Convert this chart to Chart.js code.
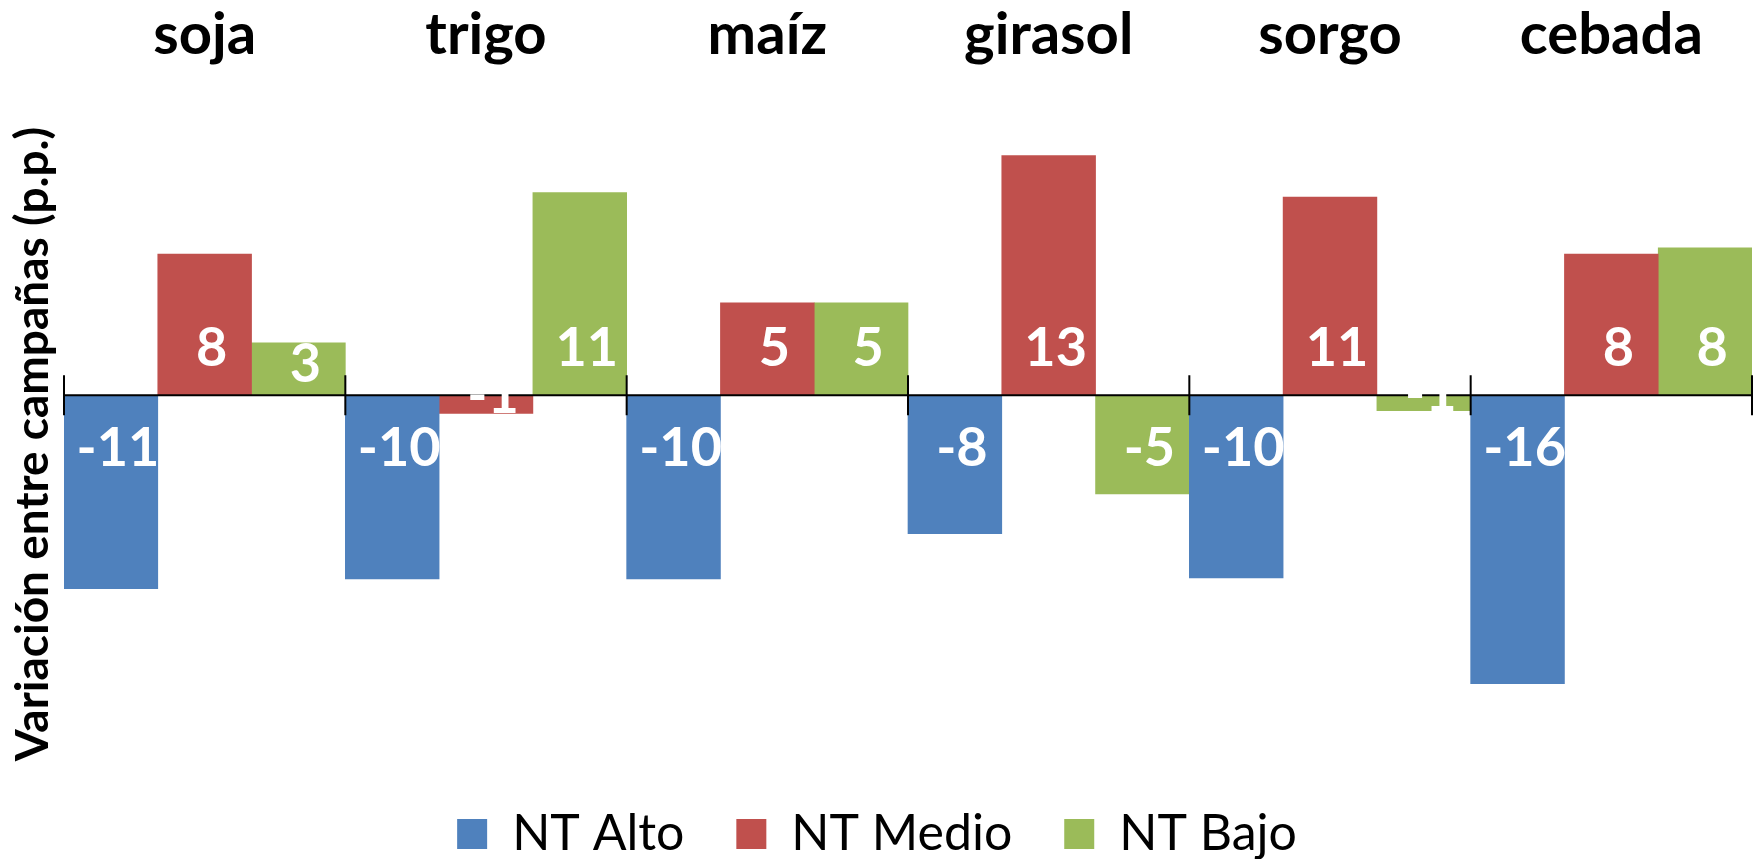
<!DOCTYPE html>
<html lang="es">
<head>
<meta charset="utf-8">
<title>Variación entre campañas</title>
<script src="https://cdn.jsdelivr.net/npm/chart.js@4.4.1/dist/chart.umd.min.js"></script>
<style>
    html, body { margin: 0; padding: 0; background: #fff; }
    #grafico { display: block; }
</style>
</head>
<body>
<canvas id="grafico" width="1764" height="859"></canvas>
<script>
// Cultivos (etiquetas del eje de categorías)
const cultivos = ["soja", "trigo", "maíz", "girasol", "sorgo", "cebada"];

// Series (variación en p.p.)
const nombresSeries = ["NT Alto", "NT Medio", "NT Bajo"];
const ntAlto = [-10.7, -10.15, -10.15, -7.65, -10.1, -15.95];
const ntMedio = [7.8, -1.0, 5.1, 13.25, 10.95, 7.8];
const ntBajo = [2.9, 11.2, 5.1, -5.45, -0.85, 8.15];

// Límites del eje de valores
const yMin = -20;
const yMax = 18;

const tituloEjeY = "Variación entre campañas (p.p.)";
const colores = ["#4F81BD", "#C0504D", "#9BBB59"];

// Línea del cero con marcas entre categorías, etiquetas de datos y título del eje
const ejeCero = {
    id: "ejeCero",
    afterDatasetsDraw(chart) {
        const { ctx, chartArea, scales: { x, y } } = chart;
        const y0 = y.getPixelForValue(0);
        const paso = (chartArea.right - chartArea.left) / cultivos.length;
        ctx.save();
        ctx.strokeStyle = "#000";
        ctx.lineWidth = 2;
        ctx.beginPath();
        ctx.moveTo(chartArea.left, y0);
        ctx.lineTo(chartArea.right, y0);
        for (let i = 0; i <= cultivos.length; i++) {
            const px = x.getPixelForValue(0) - paso / 2 + i * paso;
            ctx.moveTo(px, y0 - 20);
            ctx.lineTo(px, y0 + 20);
        }
        ctx.stroke();

        ctx.font = "bold 54px Lato";
        ctx.fillStyle = "#fff";
        ctx.textAlign = "center";
        ctx.textBaseline = "alphabetic";
        const alto = ctx.measureText("0").actualBoundingBoxAscent;
        chart.data.datasets.forEach((ds, di) => {
            chart.getDatasetMeta(di).data.forEach((barra, i) => {
                const v = ds.data[i];
                let base;
                if (v >= 0) {
                    base = Math.max(barra.base - 29, barra.y + alto);
                } else {
                    base = Math.min(barra.base + 32 + alto, barra.y);
                }
                ctx.fillText(String(Math.round(v)), barra.x + 7, base);
            });
        });
        ctx.restore();
    },
    afterDraw(chart) {
        const ctx = chart.ctx;
        ctx.save();
        ctx.translate(33, 444);
        ctx.rotate(-Math.PI / 2);
        ctx.font = "bold 46px Lato";
        ctx.fillStyle = "#000";
        ctx.textAlign = "center";
        ctx.textBaseline = "middle";
        ctx.fillText(tituloEjeY, 0, 0);
        ctx.restore();
    }
};

const series = [ntAlto, ntMedio, ntBajo];

new Chart(document.getElementById("grafico"), {
    type: "bar",
    data: {
        labels: cultivos,
        datasets: series.map((valores, i) => ({
            label: nombresSeries[i],
            data: valores,
            backgroundColor: colores[i],
            borderWidth: 0,
            categoryPercentage: 1,
            barPercentage: 1
        }))
    },
    options: {
        responsive: false,
        animation: false,
        layout: { padding: { left: 2, right: 12, top: 0, bottom: 0 } },
        plugins: {
            tooltip: { enabled: false },
            legend: {
                position: "bottom",
                maxHeight: 102,
                labels: {
                    color: "#000",
                    font: { family: "Lato", size: 50 },
                    boxWidth: 30,
                    boxHeight: 30,
                    padding: 52
                }
            }
        },
        scales: {
            x: {
                position: "top",
                grid: { display: false, drawTicks: false },
                border: { display: false },
                ticks: {
                    color: "#000",
                    padding: 0,
                    font: { family: "Lato", size: 58, weight: "bold" }
                }
            },
            y: {
                min: yMin,
                max: yMax,
                grid: { display: false, drawTicks: false },
                border: { display: false },
                ticks: { display: false },
                afterFit(escala) { escala.width = 62; }
            }
        }
    },
    plugins: [ejeCero]
});
</script>
</body>
</html>
